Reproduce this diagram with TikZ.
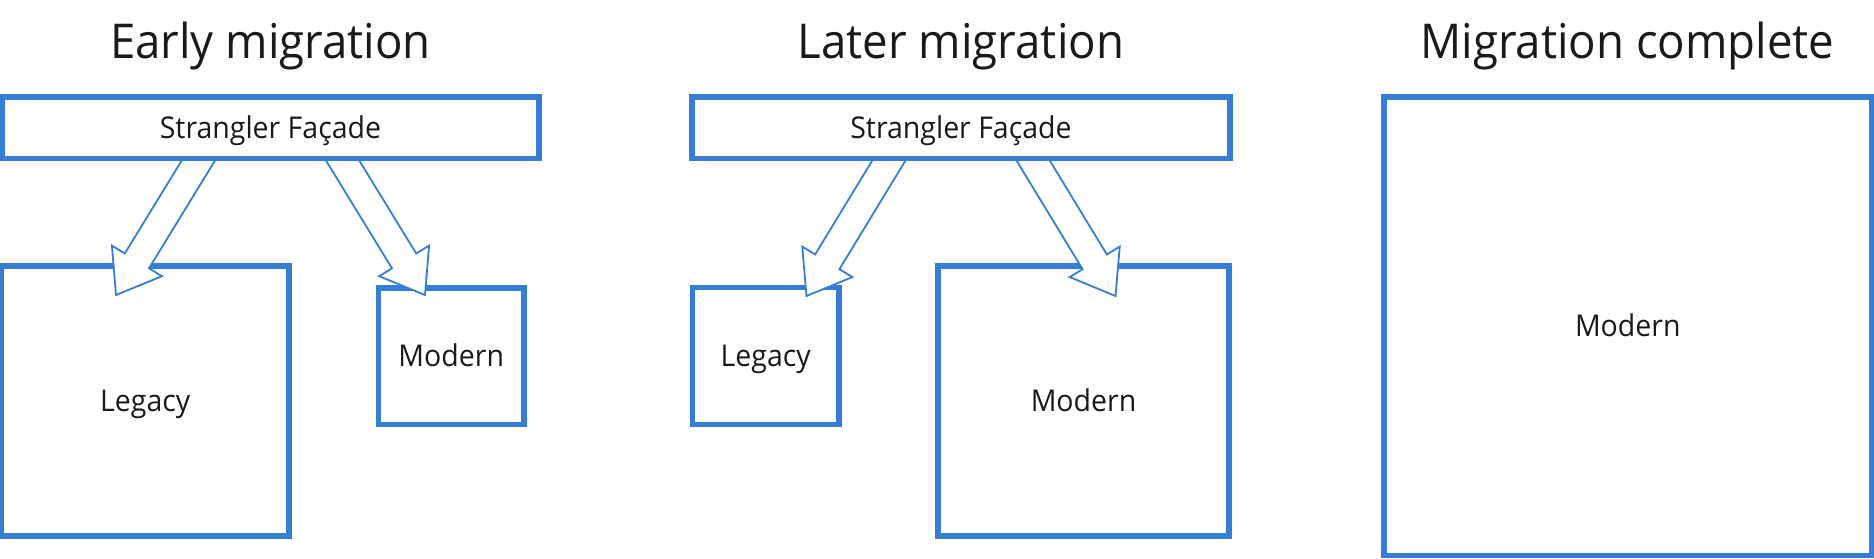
\documentclass[tikz,border=0pt]{standalone}
\usepackage{fontspec}
\setmainfont{Open Sans}[FakeStretch=0.95]
\usetikzlibrary{calc}
\definecolor{boxblue}{RGB}{54,125,212}
\definecolor{inkk}{RGB}{26,26,26}
\pgfdeclarelayer{bg}
\pgfdeclarelayer{mid}
\pgfsetlayers{bg,mid,main}
\newcommand\blockarrow[2]{%
  \coordinate (ba-s) at ($(#1)!-25pt!(#2)$);
  \coordinate (ba-b) at ($(#2)!40pt!(#1)$);
  \draw[blockarr] ($(ba-s)!14.2pt!90:(#2)$) -- ($(ba-b)!14.2pt!90:(#2)$)
    -- ($(ba-b)!29.3pt!90:(#2)$) -- (#2) -- ($(ba-b)!29.3pt!-90:(#2)$)
    -- ($(ba-b)!14.2pt!-90:(#2)$) -- ($(ba-s)!14.2pt!-90:(#2)$) -- cycle;
}
\begin{document}
\begin{tikzpicture}[x=1pt,y=-1pt,
  box/.style={draw=boxblue, line width=5.3pt, fill=white, inner sep=0pt,
    text height=21pt, text depth=0pt, font=\fontsize{30}{36}\selectfont, text=inkk},
  title/.style={anchor=base, inner sep=0pt, font=\fontsize{48}{58}\selectfont, text=inkk},
  blockarr/.style={draw=boxblue, line width=1.8pt, fill=white, line join=miter}]
\useasboundingbox (0,0) rectangle (1874,558);

% titles
\node[title] (t1) at (270.5,58.3) {Early migration};
\node[title] (t2) at (961,58.3) {Later migration};
\node[title] (t3) at (1627.5,58.3) {Migration complete};

% facades
\node[box, minimum width=537pt, minimum height=61.5pt] (fac1) at (270.5,127.75) {Strangler Façade};
\node[box, minimum width=538pt, minimum height=61.5pt] (fac2) at (961,127.75) {Strangler Façade};

% target boxes (below arrows)
\begin{pgfonlayer}{bg}
\node[box, minimum width=287.5pt, minimum height=270pt] (leg1) at (145.25,401) {Legacy};
\node[box, minimum width=145.5pt, minimum height=136.5pt] (mod1) at (451.25,356.25) {Modern};
\node[box, minimum width=146.5pt, minimum height=137pt] (leg2) at (765.75,356) {Legacy};
\node[box, minimum width=291pt, minimum height=270pt] (mod2) at (1083.5,401) {Modern};
\end{pgfonlayer}
\node[box, minimum width=487.5pt, minimum height=458.5pt] (mod3) at (1627.75,326.25) {Modern};

% arrow ends
\coordinate (s1) at ([xshift=-72.5pt]fac1.south);
\coordinate (s2) at ([xshift=72.5pt]fac1.south);
\coordinate (s3) at ([xshift=-72.5pt]fac2.south);
\coordinate (s4) at ([xshift=72.5pt]fac2.south);
\coordinate (e1) at (116,295);
\coordinate (e2) at (425,295);
\coordinate (e3) at (806.5,296);
\coordinate (e4) at (1115.5,296);

\begin{pgfonlayer}{mid}
\blockarrow{s1}{e1}
\blockarrow{s2}{e2}
\blockarrow{s3}{e3}
\blockarrow{s4}{e4}
\end{pgfonlayer}
\end{tikzpicture}
\end{document}
